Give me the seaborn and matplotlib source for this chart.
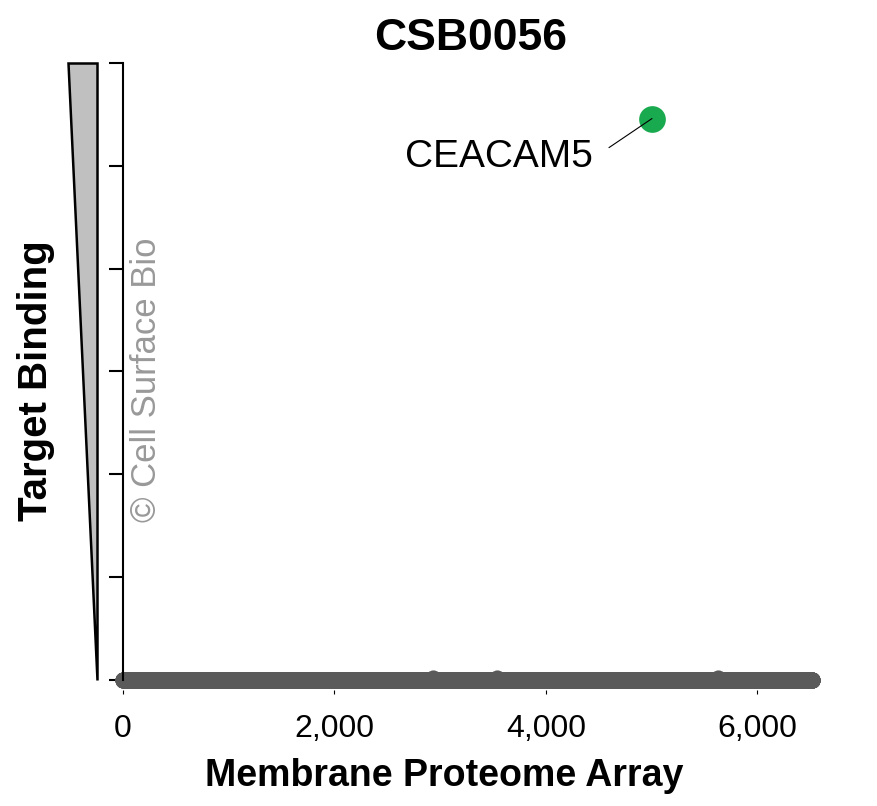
import numpy as np
import pandas as pd
import seaborn as sns
import matplotlib.pyplot as plt
from matplotlib.patches import Polygon

# data
title = "CSB0056"
n_proteins = 6520                       # proteins on the array, plotted by index
hit_index = [2933, 3538, 5629, 5005]    # proteins with non-zero binding
hit_binding = [0.02, 0.02, 0.02, 5.46]
hit_names = ["", "", "", "CEACAM5"]
x_ticks = [0, 2000, 4000, 6000]
y_ticks = [0, 1, 2, 3, 4, 5, 6]

binding = np.zeros(n_proteins)
binding[np.array(hit_index[:3]) - 1] = hit_binding[:3]
df = pd.DataFrame({"index": np.arange(1, n_proteins + 1), "binding": binding})
top = pd.DataFrame({"index": hit_index[3:], "binding": hit_binding[3:], "name": hit_names[3:]})
df = df[df["index"] != hit_index[3]]

sns.set_style("white")
plt.rcParams['font.family'] = ['Liberation Sans', 'DejaVu Sans']
plt.rcParams['text.color'] = 'black'
plt.rcParams['xtick.color'] = 'black'
plt.rcParams['ytick.color'] = 'black'

W, H = 877, 806
fig = plt.figure(figsize=(W / 100, H / 100), dpi=100)
# axes placed in pixels: left 123, right 830, bottom 690, top 63
ax = fig.add_axes([123 / W, 1 - 690 / H, (830 - 123) / W, (690 - 63) / H])

sns.scatterplot(data=df, x="index", y="binding", color="#5a5a5a", s=135,
                linewidth=0, ax=ax, clip_on=False, zorder=2)
sns.scatterplot(data=top, x="index", y="binding", color="#19aa4f", s=370,
                linewidth=0, ax=ax, clip_on=False, zorder=3)

for _, r in top.iterrows():
    ax.annotate(r["name"], xy=(r["index"], r["binding"]),
                xytext=(r["index"] - 558, r["binding"] - 0.37),
                ha="right", va="center", fontsize=28, color="black",
                arrowprops=dict(arrowstyle="-", lw=0.8, color="black",
                                relpos=(1, 0.45), shrinkA=11, shrinkB=0),
                zorder=4)

ax.set_xlim(0, (830 - 123) / 105.7 * 1000)
ax.set_ylim(-10 / 102.8, 6)
ax.set_xticks(x_ticks)
ax.set_xticklabels([f"{t:,}" for t in x_ticks], fontsize=23)
ax.set_yticks(y_ticks)
ax.set_yticklabels([])
ax.tick_params(axis="x", direction="out", length=3, width=0.8, pad=14,
               bottom=True, colors="black")
ax.tick_params(axis="y", direction="out", length=10, width=1.5, left=True,
               colors="black")
for s in ["top", "right", "bottom"]:
    ax.spines[s].set_visible(False)
ax.spines["left"].set_bounds(0, 6)
ax.spines["left"].set_linewidth(1.5)
ax.spines["left"].set_color("black")
ax.set_xlabel("")
ax.set_ylabel("")

# wedge next to the y axis
wedge = Polygon([(68 / W, 1 - 63 / H), (97 / W, 1 - 63 / H), (97 / W, 1 - 680 / H)],
                closed=True, transform=fig.transFigure, facecolor="#c0c0c0",
                edgecolor="black", lw=1.8, joinstyle="miter")
fig.patches.append(wedge)

fig.text(471 / W, 1 - 38 / H, title, ha="center", va="center",
         fontsize=32, fontweight="bold", color="black")
fig.text(444 / W, 1 - 776 / H, "Membrane Proteome Array", ha="center",
         va="center", fontsize=27, fontweight="bold", color="black")
fig.text(36 / W, 1 - 381 / H, "Target Binding", ha="center", va="center",
         rotation=90, fontsize=29, fontweight="bold", color="black")
fig.text(147 / W, 1 - 380 / H, "© Cell Surface Bio", ha="center", va="center",
         rotation=90, fontsize=25, color="#999999")

fig.savefig("out.png", dpi=100)
